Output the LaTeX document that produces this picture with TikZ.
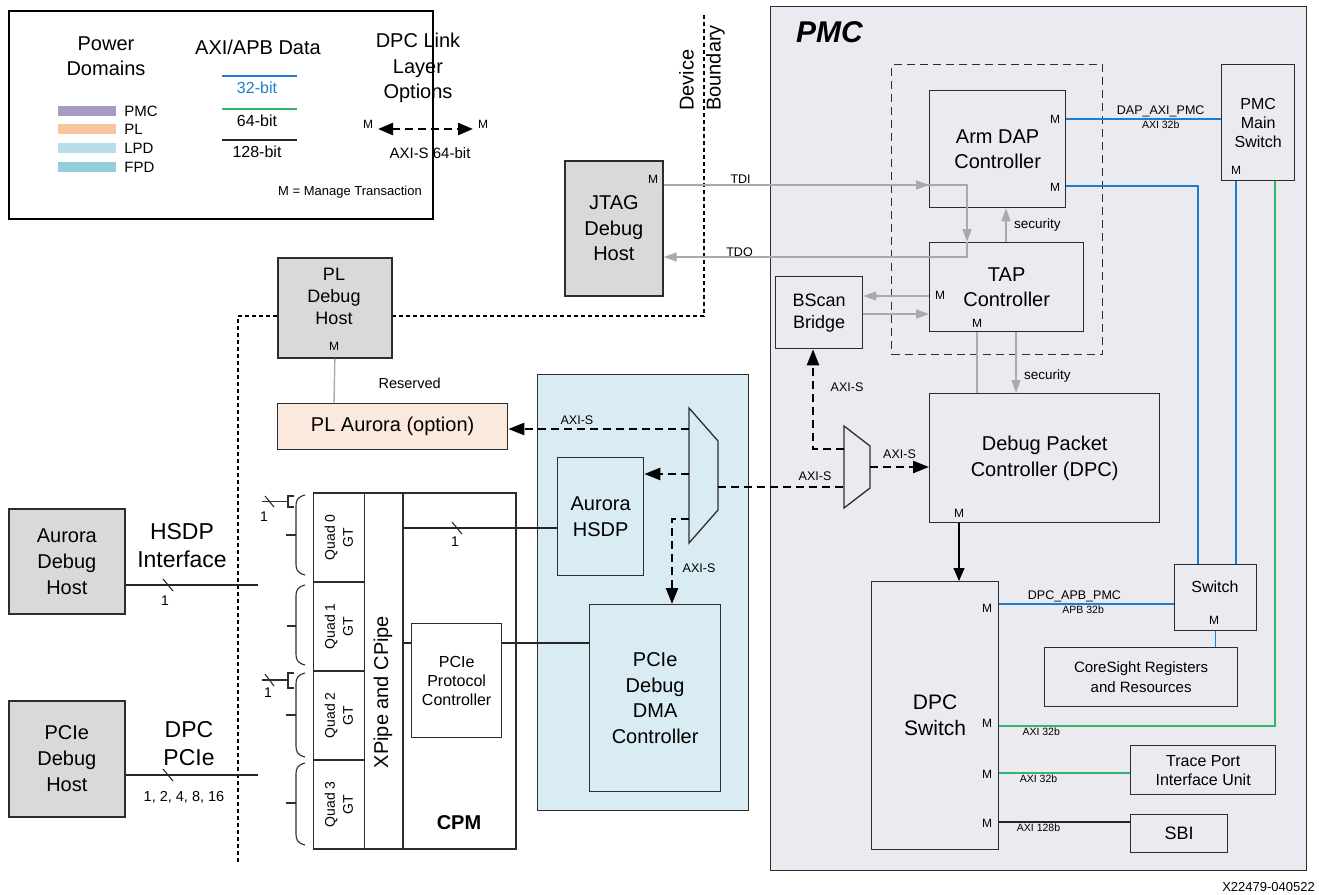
\documentclass[tikz,border=0pt]{standalone}
\usepackage{fontspec}
\setmainfont{Liberation Sans}
\usetikzlibrary{arrows.meta, positioning, calc}
\definecolor{pmcfill}{RGB}{236,234,241}
\definecolor{lpdfill}{RGB}{218,236,243}
\definecolor{plfill}{RGB}{252,233,221}
\definecolor{hostgray}{RGB}{217,217,217}
\definecolor{edgegray}{RGB}{45,45,45}
\definecolor{wiregray}{RGB}{170,170,170}
\definecolor{axiblue}{RGB}{30,125,205}
\definecolor{axigreen}{RGB}{45,185,105}
\definecolor{pmcswatch}{RGB}{168,155,192}
\definecolor{plswatch}{RGB}{248,197,155}
\definecolor{lpdswatch}{RGB}{183,222,232}
\definecolor{fpdswatch}{RGB}{147,206,218}

\begin{document}
\begin{tikzpicture}[
    x=1pt, y=-1pt,
    box/.style={
        rectangle,
        draw=edgegray,
        line width=1.3pt,
        inner sep=2pt,
        align=center,
        anchor=north west,
        font=\fontsize{20}{25.5}\selectfont
    },
    hostbox/.style={
        box,
        line width=1.7pt,
        fill=hostgray
    },
    pmcbox/.style={
        box,
        fill=pmcfill
    },
    lpdbox/.style={
        box,
        fill=lpdfill
    },
    mlab/.style={
        inner sep=0pt,
        font=\fontsize{12}{14}\selectfont
    },
    lab/.style={
        inner sep=1.5pt,
        font=\fontsize{12.5}{15}\selectfont
    },
    seclab/.style={
        inner sep=1.5pt,
        font=\fontsize{13.5}{16}\selectfont
    },
    tinylab/.style={
        inner sep=1.5pt,
        font=\fontsize{10.5}{12}\selectfont
    },
    numlab/.style={
        inner sep=0pt,
        font=\fontsize{14}{16}\selectfont
    },
    legtitle/.style={
        align=center,
        font=\fontsize{20}{25.5}\selectfont
    },
    leglab/.style={
        inner sep=0pt,
        font=\fontsize{15}{18}\selectfont
    },
    swatch/.style={
        minimum width=58,
        minimum height=10,
        inner sep=0pt
    },
    quadtxt/.style={
        rotate=90,
        align=center,
        font=\fontsize{14}{18}\selectfont
    },
    wire/.style={
        draw=wiregray,
        line width=1.4pt
    },
    wirearrow/.style={
        wire,
        -{Triangle[length=13pt, width=9pt]}
    },
    arrow/.style={
        -{Triangle[length=13pt, width=11pt]},
        line width=1.3pt,
        draw=black
    },
    axisline/.style={
        line width=2.4pt,
        dash pattern=on 8pt off 5pt,
        draw=black
    },
    axisarrow/.style={
        axisline,
        -{Triangle[length=16pt, width=12pt]}
    },
    bus32/.style={draw=axiblue, line width=1.4pt},
    bus64/.style={draw=axigreen, line width=1.4pt},
    bus128/.style={draw=black!85, line width=1.4pt},
    thinline/.style={draw=edgegray, line width=1.1pt},
    boundary/.style={draw=black, line width=1.1pt, dash pattern=on 4pt off 3pt},
    groupline/.style={draw=edgegray, line width=1.3pt, dash pattern=on 8pt off 5pt},
    muxshape/.style={draw=edgegray, line width=1.3pt}
]
    \useasboundingbox (0,0) rectangle (1319,894);

    % Legend
    \node[draw=black, line width=2.2pt, minimum width=424, minimum height=208, anchor=north west] (legend) at (8,10) {};
    \node[legtitle] (pdtitle) at (106,56) {Power\\Domains};
    \node[swatch, fill=pmcswatch] (swpmc) at (87,111) {};
    \node[swatch, fill=plswatch] (swpl) at (87,129) {};
    \node[swatch, fill=lpdswatch] (swlpd) at (87,148) {};
    \node[swatch, fill=fpdswatch] (swfpd) at (87,167) {};
    \node[leglab, right=8pt of swpmc] (pmckey) {PMC};
    \node[leglab, right=8pt of swpl] (plkey) {PL};
    \node[leglab, right=8pt of swlpd] (lpdkey) {LPD};
    \node[leglab, right=8pt of swfpd] (fpdkey) {FPD};

    \node[legtitle] (axititle) at (258,47) {AXI/APB Data};
    \draw[bus32] (222,76) -- (297,76);
    \node[leglab, text=axiblue, font=\fontsize{16}{18}\selectfont] (bit32) at (257,88) {32-bit};
    \draw[bus64] (222,109) -- (297,109);
    \node[leglab, font=\fontsize{16}{18}\selectfont] (bit64) at (257,121) {64-bit};
    \draw[bus128] (222,140) -- (297,140);
    \node[leglab, font=\fontsize{16}{18}\selectfont] (bit128) at (257,152) {128-bit};

    \node[legtitle] (linktitle) at (418,68) {DPC Link\\Layer\\Options};
    \coordinate (keyl) at (378,129);
    \coordinate (keyr) at (473,129);
    \draw[axisline, {Triangle[length=15pt, width=12pt]}-{Triangle[length=15pt, width=12pt]}] (keyl) -- (keyr);
    \node[mlab] (keyml) at (368,124) {M};
    \node[mlab] (keymr) at (483,124) {M};
    \node[leglab] (keytxt) at (430,153) {AXI-S 64-bit};
    \node[lab, font=\fontsize{13}{15}\selectfont] (mnote) at (350,192) {M = Manage Transaction};

    % Power domain regions
    \node[pmcbox, minimum width=536, minimum height=864] (pmc) at (770,6) {};
    \node[anchor=west, inner sep=0pt, font=\fontsize{30}{36}\selectfont\bfseries\itshape] (pmctitle) at (796,32) {PMC};
    \node[lpdbox, line width=1.2pt, minimum width=211, minimum height=436] (lpd) at (537,374) {};

    % Device boundary
    \coordinate (bndtop) at (704,15);
    \coordinate (bndcorner) at (704,316);
    \coordinate (bndleft) at (238,316);
    \coordinate (bndbot) at (238,864);
    \draw[boundary] (bndtop) -- (bndcorner) -- (bndleft) -- (bndbot);
    \node[rotate=90, anchor=west, align=left, inner sep=0pt, font=\fontsize{20}{27}\selectfont] (bndtxt) at (702,111) {Device\\Boundary};

    % Debug hosts
    \node[hostbox, minimum width=98, minimum height=135] (jtag) at (564,160) {JTAG\\Debug\\Host};
    \node[mlab] (jtagm) at (653,179) {M};
    \node[hostbox, minimum width=114, minimum height=100] (plhost) at (277,257) {};
    \node[align=center, font=\fontsize{18}{22}\selectfont] (plhosttxt) at (334,296) {PL\\Debug\\Host};
    \node[mlab] (plhostm) at (334,346) {M};
    \node[box, fill=plfill, minimum width=230, minimum height=46] (plaurora) at (277,403) {PL Aurora (option)};
    \node[hostbox, minimum width=116, minimum height=105, font=\fontsize{20}{26}\selectfont] (aurorahost) at (8,508) {Aurora\\Debug\\Host};
    \node[hostbox, minimum width=116, minimum height=116, font=\fontsize{20}{26}\selectfont] (pciehost) at (8,700) {PCIe\\Debug\\Host};
    \node[align=center, font=\fontsize{23}{28}\selectfont] (hsdptxt) at (182,546) {HSDP\\Interface};
    \node[align=center, font=\fontsize{23}{28}\selectfont] (dpcpcietxt) at (189,744) {DPC\\PCIe};

    % PMC blocks
    \node[groupline, minimum width=211, minimum height=290, anchor=north west] (dapgroup) at (891,64) {};
    \node[pmcbox, minimum width=136, minimum height=117] (dap) at (929,90) {Arm DAP\\Controller};
    \node[mlab] (dapm1) at (1055,119) {M};
    \node[mlab] (dapm2) at (1055,187) {M};
    \node[pmcbox, minimum width=154, minimum height=89] (tap) at (929,242) {TAP\\Controller};
    \node[mlab] (tapm1) at (940,295) {M};
    \node[mlab] (tapm2) at (977,323) {M};
    \node[pmcbox, minimum width=73, minimum height=116, font=\fontsize{16}{19}\selectfont] (pmcsw) at (1221,64) {PMC\\Main\\Switch};
    \node[mlab] (pmcswm) at (1236,170) {M};
    \node[pmcbox, minimum width=87, minimum height=72, font=\fontsize{18}{22}\selectfont] (bscan) at (775,276) {BScan\\Bridge};
    \node[pmcbox, minimum width=230, minimum height=129] (dpc) at (929,393) {Debug Packet\\Controller (DPC)};
    \node[mlab] (dpcm) at (959,513) {M};
    \node[pmcbox, minimum width=127, minimum height=268, font=\fontsize{21}{26}\selectfont] (dpcsw) at (871,581) {DPC\\Switch};
    \node[mlab] (dpcswm1) at (987,608) {M};
    \node[mlab] (dpcswm2) at (987,723) {M};
    \node[mlab] (dpcswm3) at (987,774) {M};
    \node[mlab] (dpcswm4) at (987,823) {M};
    \node[pmcbox, minimum width=82, minimum height=66] (switch) at (1174,564) {};
    \node[font=\fontsize{16}{19}\selectfont] (switchtxt) at (1215,587) {Switch};
    \node[mlab] (switchm) at (1214,620) {M};
    \node[pmcbox, minimum width=193, minimum height=59, font=\fontsize{15}{20}\selectfont] (coresight) at (1044,647) {CoreSight Registers\\and Resources};
    \node[pmcbox, minimum width=145, minimum height=49, font=\fontsize{16}{19}\selectfont] (trace) at (1130,745) {Trace Port\\Interface Unit};
    \node[pmcbox, minimum width=97, minimum height=38, font=\fontsize{18}{22}\selectfont] (sbi) at (1130,814) {SBI};

    % LPD / FPD blocks
    \node[lpdbox, minimum width=86, minimum height=118] (aurora) at (557,457) {Aurora\\HSDP};
    \node[lpdbox, minimum width=131, minimum height=187] (pcidma) at (589,604) {PCIe\\Debug\\DMA\\Controller};

    % CPM
    \node[box, line width=1.6pt, minimum width=113, minimum height=356] (cpm) at (402,492) {};
    \node[font=\fontsize{20}{24}\selectfont\bfseries] (cpmtxt) at (459,823) {CPM};
    \node[box, line width=1.6pt, minimum width=38.5, minimum height=356] (xpipe) at (363.5,492) {};
    \node[rotate=90, font=\fontsize{20}{24}\selectfont] (xpipetxt) at (383,692) {XPipe and CPipe};
    \node[box, line width=1.6pt, minimum width=51, minimum height=89] (quad0) at (312.5,492) {};
    \node[box, line width=1.6pt, minimum width=51, minimum height=89] (quad1) at (312.5,581) {};
    \node[box, line width=1.6pt, minimum width=51, minimum height=89] (quad2) at (312.5,670) {};
    \node[box, line width=1.6pt, minimum width=51, minimum height=89] (quad3) at (312.5,759) {};
    \node[quadtxt] (quad0txt) at (quad0.center) {Quad 0\\GT};
    \node[quadtxt] (quad1txt) at (quad1.center) {Quad 1\\GT};
    \node[quadtxt] (quad2txt) at (quad2.center) {Quad 2\\GT};
    \node[quadtxt] (quad3txt) at (quad3.center) {Quad 3\\GT};
    \node[box, minimum width=90, minimum height=114, font=\fontsize{16}{19}\selectfont] (ppc) at (411,623) {PCIe\\Protocol\\Controller};

    % Lane braces
    \draw[thinline] (305,495) .. controls (297,497) and (296,501) .. (296,506) -- (296,564) .. controls (296,569) and (297,573) .. (305,575);
    \draw[thinline] (305,585) .. controls (297,587) and (296,591) .. (296,596) -- (296,654) .. controls (296,659) and (297,663) .. (305,665);
    \draw[thinline] (305,673) .. controls (297,675) and (296,679) .. (296,684) -- (296,746) .. controls (296,751) and (297,755) .. (305,757);
    \draw[thinline] (305,763) .. controls (297,765) and (296,769) .. (296,774) -- (296,834) .. controls (296,839) and (297,843) .. (305,845);
    \draw[thinline] (286,535) -- (296,535);
    \draw[thinline, line width=1.6pt] (287,626) -- (296,626);
    \draw[thinline] (286,715) -- (296,715);
    \draw[thinline] (286,803) -- (296,803);
    \draw[thinline] (294,496) -- (288,496) -- (288,507) -- (294,507);
    \draw[thinline] (262,501.5) -- (288,501.5);
    \draw[thinline] (265,496) -- (274,507);
    \node[numlab] (lane0) at (264,517) {1};
    \draw[thinline] (294,673) -- (288,673) -- (288,688) -- (294,688);
    \draw[thinline] (262,680) -- (288,680);
    \draw[thinline] (265,674) -- (274,686);
    \node[numlab] (lane2) at (268,693) {1};

    % Multiplexers
    \coordinate (mxa1) at (689,408);
    \coordinate (mxa2) at (718,441);
    \coordinate (mxa3) at (718,510);
    \coordinate (mxa4) at (689,543);
    \draw[muxshape, fill=lpdfill] (mxa1) -- (mxa2) -- (mxa3) -- (mxa4) -- cycle;
    \coordinate (mxb1) at (844,426);
    \coordinate (mxb2) at (870,446);
    \coordinate (mxb3) at (870,488);
    \coordinate (mxb4) at (844,508);
    \draw[muxshape, fill=pmcfill] (mxb1) -- (mxb2) -- (mxb3) -- (mxb4) -- cycle;
    \coordinate (mxaout) at (718,487);
    \coordinate (mxapl) at (689,429);
    \coordinate (mxahsdp) at (689,474);
    \coordinate (mxadma) at (689,519);
    \coordinate (mxbin) at (844,487);
    \coordinate (mxbscan) at (844,449);
    \coordinate (mxbout) at (870,467);

    % Host links
    \coordinate (hsdpend) at (258,585);
    \coordinate (pcieend) at (258,775);
    \draw[bus128] ([yshift=-77pt]aurorahost.north east) -- (hsdpend);
    \draw[thinline] (163,579) -- (173,591);
    \node[numlab] (hsdpwidth) at (165,601) {1};
    \draw[bus128] ([yshift=-75pt]pciehost.north east) -- (pcieend);
    \draw[thinline] (163,769) -- (173,781);
    \node[numlab, font=\fontsize{14.5}{16}\selectfont] (pciewidth) at (184,797) {1, 2, 4, 8, 16};

    % CPM links
    \draw[bus128] ([yshift=-36pt]xpipe.north east) -- ([yshift=-71pt]aurora.north west);
    \draw[thinline] (452,522) -- (462,534);
    \node[numlab] (cpmwidth) at (455,542) {1};
    \draw[bus128] ([yshift=-151pt]xpipe.north east) -- ([yshift=-20pt]ppc.north west);
    \draw[bus128] ([yshift=-20pt]ppc.north east) -- ([yshift=-39pt]pcidma.north west);

    % JTAG links
    \draw[wirearrow] ([yshift=-25pt]jtag.north east) -- node[lab, above, inner sep=1pt, pos=0.29] {TDI} ([yshift=-95pt]dap.north west);
    \draw[wirearrow] ([yshift=-25pt]jtag.north east) -| ([xshift=38pt]tap.north west);
    \draw[wirearrow] ([xshift=38pt]tap.north west) |- node[lab, above, inner sep=0pt, pos=0.875] {TDO} ([yshift=-97pt]jtag.north east);
    \draw[wirearrow] ([xshift=77pt]tap.north west) -- node[seclab, right=6pt] {security} ([xshift=77pt]dap.south west);
    \draw[wirearrow] ([yshift=-54pt]tap.north west) -- ([yshift=-20pt]bscan.north east);
    \draw[wirearrow] ([yshift=-38pt]bscan.north east) -- ([yshift=-72pt]tap.north west);
    \draw[wire] ([xshift=48pt]tap.south west) -- ([xshift=48pt]dpc.north west);
    \draw[wirearrow] ([xshift=87pt]tap.south west) -- node[seclab, right=6pt, pos=0.72] {security} ([xshift=87pt]dpc.north west);
    \draw[wire] (plhost.south) -- node[seclab, font=\fontsize{14.5}{17}\selectfont, right=42pt, pos=0.55] {Reserved} ([xshift=57pt]plaurora.north west);

    % AXI-S streams
    \draw[axisarrow] (mxapl) -- node[lab, above=2pt, pos=0.62] {AXI-S} ([yshift=-26pt]plaurora.north east);
    \draw[axisarrow] (mxahsdp) -- ([yshift=-17pt]aurora.north east);
    \draw[axisarrow] (mxadma) -| node[lab, right=8pt, pos=0.79] {AXI-S} ([xshift=83pt]pcidma.north west);
    \draw[axisline] (mxaout) -- node[lab, above=4pt, pos=0.77] {AXI-S} (mxbin);
    \draw[axisarrow] (mxbout) -- node[lab, above=6pt] {AXI-S} ([yshift=-74pt]dpc.north west);
    \draw[axisarrow] (mxbscan) -| node[lab, right=15pt, pos=0.81] {AXI-S} ([xshift=38pt]bscan.south west);

    % AXI / APB buses
    \draw[bus32] ([yshift=-29pt]dap.north east) -- node[lab, above, pos=0.61] {DAP\_AXI\_PMC} node[tinylab, below, pos=0.61] {AXI 32b} ([yshift=-55pt]pmcsw.north west);
    \draw[bus32] ([yshift=-96pt]dap.north east) -| ([xshift=24pt]switch.north west);
    \draw[bus32] ([xshift=15pt]pmcsw.south west) -- ([xshift=62pt]switch.north west);
    \draw[bus64] ([xshift=54pt]pmcsw.south west) |- node[tinylab, below, pos=0.924] {AXI 32b} ([yshift=-145pt]dpcsw.north east);
    \draw[bus32] ([yshift=-23pt]dpcsw.north east) -- node[lab, above, inner sep=1pt, pos=0.43] {DPC\_APB\_PMC} node[tinylab, below, pos=0.48] {APB 32b} ([yshift=-40pt]switch.north west);
    \draw[bus32] (switch.south) -- (switch.south |- coresight.north);
    \draw[bus64] ([yshift=-192pt]dpcsw.north east) -- node[tinylab, below, pos=0.3] {AXI 32b} ([yshift=-28pt]trace.north west);
    \draw[bus128] ([yshift=-241pt]dpcsw.north east) -- node[tinylab, below, pos=0.3] {AXI 128b} ([yshift=-8pt]sbi.north west);
    \draw[arrow] ([xshift=30pt]dpc.south west) -- ([xshift=88pt]dpcsw.north west);

    \node[anchor=east, inner sep=0pt, font=\fontsize{13}{15}\selectfont] (figid) at (1315,887) {X22479-040522};
\end{tikzpicture}
\end{document}
